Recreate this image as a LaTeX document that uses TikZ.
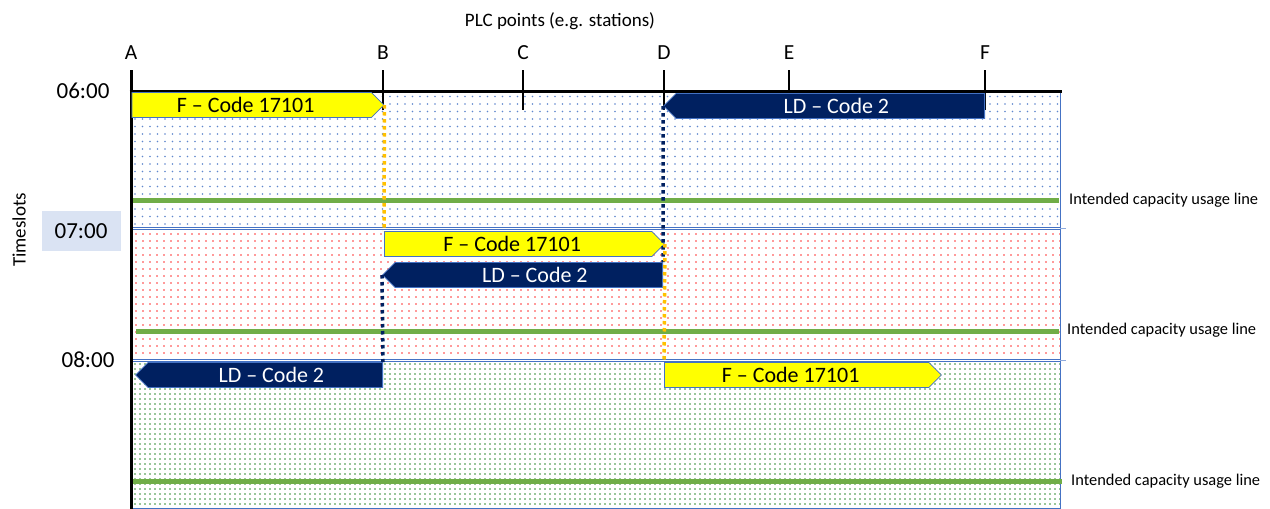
\documentclass[tikz,border=0pt]{standalone}
\usepackage{fontspec}
\setmainfont{Carlito}
\usetikzlibrary{shapes.symbols,patterns.meta}
\definecolor{navy}{RGB}{0,32,96}
\definecolor{fyel}{RGB}{255,255,0}
\definecolor{gline}{RGB}{112,173,71}
\definecolor{bord}{RGB}{68,114,196}
\definecolor{orng}{RGB}{255,192,0}
\definecolor{lblue}{RGB}{218,227,243}
\tikzset{
  axis/.style={line width=3pt,black},
  tick/.style={line width=2.5pt,black},
  letter/.style={font=\fontsize{21.5}{21.5}\selectfont,inner sep=0pt},
  timelbl/.style={font=\fontsize{23}{23}\selectfont,inner sep=0pt},
  capline/.style={line width=5pt,gline},
  caplbl/.style={font=\fontsize{16.4}{16.4}\selectfont,anchor=west,inner sep=0pt},
  band/.style={draw=bord,line width=0.8pt},
  fbox/.style={shape=signal,signal to=east,signal pointer angle=90,fill=fyel,draw=bord,line width=0.8pt,
     minimum height=25pt,inner sep=0pt,font=\fontsize{22}{22}\selectfont,text=black},
  ldbox/.style={shape=signal,signal to=west,signal pointer angle=90,fill=navy,draw=bord,line width=0.8pt,
     minimum height=25pt,inner sep=0pt,font=\fontsize{22}{22}\selectfont,text=white},
  odot/.style={orng,line width=3.5pt,dash pattern=on 3.5pt off 3.5pt},
  ndot/.style={navy,line width=3.5pt,dash pattern=on 3.5pt off 3.5pt},
}
\begin{document}
\begin{tikzpicture}[x=1pt,y=-1pt]
\useasboundingbox (0,0) rectangle (1270,509);
% bands
\path[preaction={fill=white},pattern={Dots[distance=7.5pt,radius=0.9pt]},pattern color=bord!85] (131,91) rectangle (1060,227);
\path[preaction={fill=white},pattern={Dots[distance=6.5pt,radius=0.9pt]},pattern color=red!80] (131,229) rectangle (1060,359);
\path[preaction={fill=white},pattern={Dots[distance=5pt,radius=0.9pt]},pattern color=green!45!black!80] (131,361) rectangle (1060,508);
\draw[band] (131,91) rectangle (1060,227);
\draw[band] (131,229) rectangle (1060,359.5);
\draw[band] (131,361) rectangle (1060,508);
\draw[band,bord!60] (1060,228) -- (1066,228);
\draw[band,bord!60] (1060,360) -- (1066,360);
% capacity lines
\draw[capline] (131,200) -- (1059,200);
\draw[capline] (136,331) -- (1059,331);
\draw[capline] (131,481) -- (1062,481);
\node[caplbl] (c1) at (1069,200) {Intended capacity usage line};
\node[caplbl] (c2) at (1067,330) {Intended capacity usage line};
\node[caplbl] (c3) at (1071,481) {Intended capacity usage line};
% axes
\draw[axis] (131,70) -- (131,509);
\draw[axis] (129.5,91) -- (1062,91);
\draw[tick] (383,70) -- (383,110);
\draw[tick] (523,70) -- (523,110);
\draw[tick] (664,70) -- (664,110);
\draw[tick] (789,70) -- (789,91);
\draw[tick] (985,70) -- (985,110);
\node[letter] (A) at (131,53) {A};
\node[letter] (B) at (383,53) {B};
\node[letter] (C) at (523,53) {C};
\node[letter] (D) at (664,53) {D};
\node[letter] (E) at (789,53) {E};
\node[letter] (F) at (985,53) {F};
\node[font=\fontsize{19}{19}\selectfont,inner sep=0pt] (plc) at (560,21) {PLC points (e.g. stations)};
% time labels
\node[timelbl] (t6) at (83,91) {06:00};
\fill[lblue] (42,211) rectangle (121,251);
\node[timelbl] (t7) at (81,231) {07:00};
\node[timelbl] (t8) at (88,360) {08:00};
\node[font=\fontsize{19}{19}\selectfont,rotate=90,inner sep=0pt] (ts) at (19,230) {Timeslots};
% trains
\node[fbox,minimum width=252pt,anchor=west] (f1) at (131.5,105) {F -- Code 17101\hspace*{12pt}};
\node[ldbox,minimum width=321pt,anchor=east] (ld2) at (985,106) {\hspace*{12pt}LD -- Code 2};
\node[fbox,minimum width=280pt,anchor=west] (f3) at (384,244) {F -- Code 17101\hspace*{12pt}};
\node[ldbox,minimum width=280pt,anchor=east] (ld4) at (663,275) {\hspace*{12pt}LD -- Code 2};
\node[ldbox,minimum width=247pt,anchor=east] (ld5) at (383,375) {\hspace*{12pt}LD -- Code 2};
\node[fbox,minimum width=277pt,anchor=west] (f6) at (664,375) {F -- Code 17101\hspace*{12pt}};
% connectors
\draw[odot] (f1.east) -- (f3.north west);
\draw[ndot] (ld2.west) -- (ld4.north east);
\draw[ndot] (ld4.west) -- (ld5.north east);
\draw[odot] (f3.east) -- (f6.north west);
\end{tikzpicture}
\end{document}
